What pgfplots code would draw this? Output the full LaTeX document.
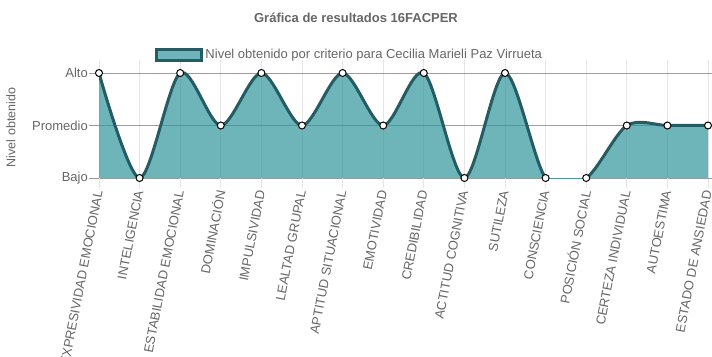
\documentclass[border=0pt]{standalone}
\usepackage{pgfplots}
\pgfplotsset{compat=1.18}
\usepackage{fontspec}
\setmainfont{Liberation Sans}
\definecolor{tbase}{HTML}{31959B}
\definecolor{tfill}{HTML}{6FB5B9}
\definecolor{tline}{HTML}{245C63}
\definecolor{txt}{HTML}{666666}
\begin{document}
\begin{tikzpicture}
\begin{axis}[
  at={(99pt,178pt)}, anchor=south west,
  scale only axis, width=609pt, height=107.625pt,
  xmin=0, xmax=15, ymin=1, ymax=3.05,
  xtick={0,...,15},
  xticklabels={EXPRESIVIDAD EMOCIONAL,INTELIGENCIA,ESTABILIDAD EMOCIONAL,DOMINACIÓN,IMPULSIVIDAD,LEALTAD GRUPAL,APTITUD SITUACIONAL,EMOTIVIDAD,CREDIBILIDAD,ACTITUD COGNITIVA,SUTILEZA,CONSCIENCIA,POSICIÓN SOCIAL,CERTEZA INDIVIDUAL,AUTOESTIMA,ESTADO DE ANSIEDAD},
  ytick={1,2,3}, yticklabels={Bajo,Promedio,Alto},
  axis line style={draw=none},
  xmajorgrids, ymajorgrids,
  x grid style={draw=black!10, line width=0.8pt},
  y grid style={draw=black!38, line width=0.8pt},
  tick align=outside, major tick length=10pt,
  xtick style={draw=black!10, line width=0.8pt},
  ytick style={draw=black!38, line width=0.8pt},
  xticklabel style={rotate=79, anchor=east, font=\fontsize{13}{15}\selectfont, text=txt, inner sep=2.5pt},
  yticklabel style={font=\fontsize{13}{15}\selectfont, text=txt, inner sep=1pt},
  legend style={at={(0.4117,1.143)}, anchor=center, draw=none, fill=none, font=\fontsize{13}{15}\selectfont, text=txt},
]
\addplot[smooth, draw=none, fill=tbase, fill opacity=0.7,
  legend image code/.code={\draw[fill=tfill, fill opacity=1, draw=tline, line width=3pt] (0pt,-5.8pt) rectangle (45pt,5.8pt);}]
  coordinates {(0,3) (1,1) (2,3) (3,2) (4,3) (5,2) (6,3) (7,2) (8,3) (9,1) (10,3) (11,1) (12,1) (13,2) (14,2) (15,2)} \closedcycle;
\addlegendentry{Nivel obtenido por criterio para Cecilia Marieli Paz Virrueta}
\addplot[smooth, draw=tline, line width=3pt, mark=*, mark size=3.5pt, mark options={fill=white, draw=black, line width=1pt}, forget plot]
  coordinates {(0,3) (1,1) (2,3) (3,2) (4,3) (5,2) (6,3) (7,2) (8,3) (9,1) (10,3) (11,1) (12,1) (13,2) (14,2) (15,2)};
\end{axis}
\node[font=\bfseries\fontsize{13}{15}\selectfont, text=txt] at (356pt,338pt) {Gráfica de resultados 16FACPER};
\node[rotate=90, font=\fontsize{12.5}{14}\selectfont, text=txt] at (11pt,228.5pt) {Nivel obtenido};
\pgfresetboundingbox
\path[use as bounding box] (0pt,0pt) rectangle (712pt,356pt);
\end{tikzpicture}
\end{document}
